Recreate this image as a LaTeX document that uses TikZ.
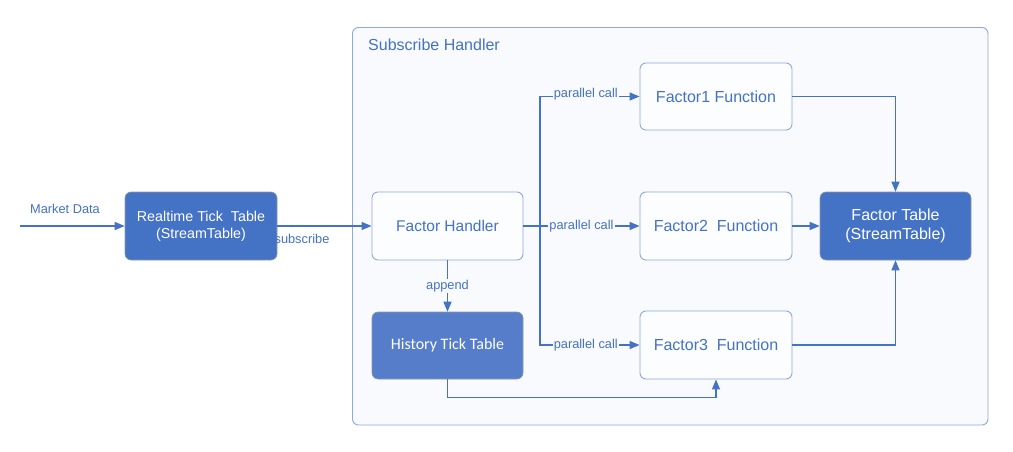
\documentclass[tikz,border=0pt]{standalone}
\usepackage{fontspec}
\setmainfont{Liberation Sans}
\newfontfamily\calib{Carlito}
\usetikzlibrary{arrows.meta}
\definecolor{blu}{HTML}{4472C4}
\definecolor{histfill}{HTML}{557DCA}
\definecolor{lightbd}{HTML}{8EAADC}
\definecolor{cfill}{HTML}{F8FAFD}
\definecolor{boxfill}{HTML}{FCFDFF}
\definecolor{darkbd}{HTML}{8C98AC}
\begin{document}
\begin{tikzpicture}[x=1pt,y=-1pt,
  conn/.style={draw=blu, line width=1.3pt, -{Triangle[length=10pt,width=8pt]}},
  plain/.style={draw=blu, line width=1.3pt},
  lightbox/.style={draw=lightbd, line width=0.9pt, fill=boxfill, rounded corners=6pt,
    minimum width=152pt, minimum height=68pt, inner sep=0pt, align=center,
    text=blu, font=\fontsize{16}{19}\selectfont},
  darkbox/.style={draw=darkbd, line width=0.6pt, fill=blu, rounded corners=6pt,
    minimum width=152pt, minimum height=68pt, inner sep=0pt, align=center,
    text=white, font=\fontsize{16}{19}\selectfont},
  container/.style={draw=lightbd, line width=0.9pt, fill=cfill, rounded corners=6pt,
    minimum width=635.5pt, minimum height=397.5pt, inner sep=0pt},
  lbl/.style={text=blu, font=\fontsize{12.8}{15}\selectfont, inner sep=1pt},
  flbl/.style={lbl, fill=cfill},
  title/.style={text=blu, font=\fontsize{16}{19}\selectfont, inner sep=0pt, anchor=west}
]
\useasboundingbox (0,0) rectangle (1013,452);
\fill[white] (0,0) rectangle (1013,452);

\node[container] (sh) at (670.25,226.25) {};
\node[title] (shl) at (368,45) {Subscribe Handler};

\node[darkbox, font=\fontsize{14.3}{17}\selectfont] (rt) at (201,226) {Realtime Tick\ \ Table\\(StreamTable)};
\node[lightbox, minimum width=151pt, font=\fontsize{15.5}{18}\selectfont] (fh) at (447.5,226) {Factor Handler};
\node[darkbox, fill=histfill, minimum width=151pt, minimum height=67pt, font=\calib\fontsize{16}{19}\selectfont] (ht) at (447.5,345.5) {History Tick Table};
\node[lightbox, minimum height=67pt] (f1) at (716,96.5) {Factor1 Function};
\node[lightbox] (f2) at (716,226) {Factor2\ \ Function};
\node[lightbox] (f3) at (716,345) {Factor3\ \ Function};
\node[darkbox, minimum width=151pt] (ft) at (895.5,226) {Factor Table\\(StreamTable)};

\coordinate (md) at (20,226);
\coordinate (bus) at (540,226);

\draw[conn] (md) -- (rt);
\node[lbl] (mdl) at (65,209) {Market Data};
\draw[conn] (rt) -- (fh);
\node[lbl] (sbl) at (302,238.5) {subscribe};
\draw[conn] (fh) -- node[flbl, pos=0.5] (apl) {append} (ht);
\draw[conn] (ht.south) -- ++(0,18) -| (f3.south);

\draw[conn] (fh.east) -- node[flbl] (pc2) {parallel call} (f2.west);
\draw[conn] (bus) |- node[flbl, pos=0.73, yshift=2pt] (pc1) {parallel call} (f1.west);
\draw[conn] (bus) |- node[flbl, pos=0.73] (pc3) {parallel call} (f3.west);

\draw[conn] (f1.east) -| (ft.north);
\draw[conn] (f2) -- (ft);
\draw[conn] (f3.east) -| (ft.south);
\end{tikzpicture}
\end{document}
